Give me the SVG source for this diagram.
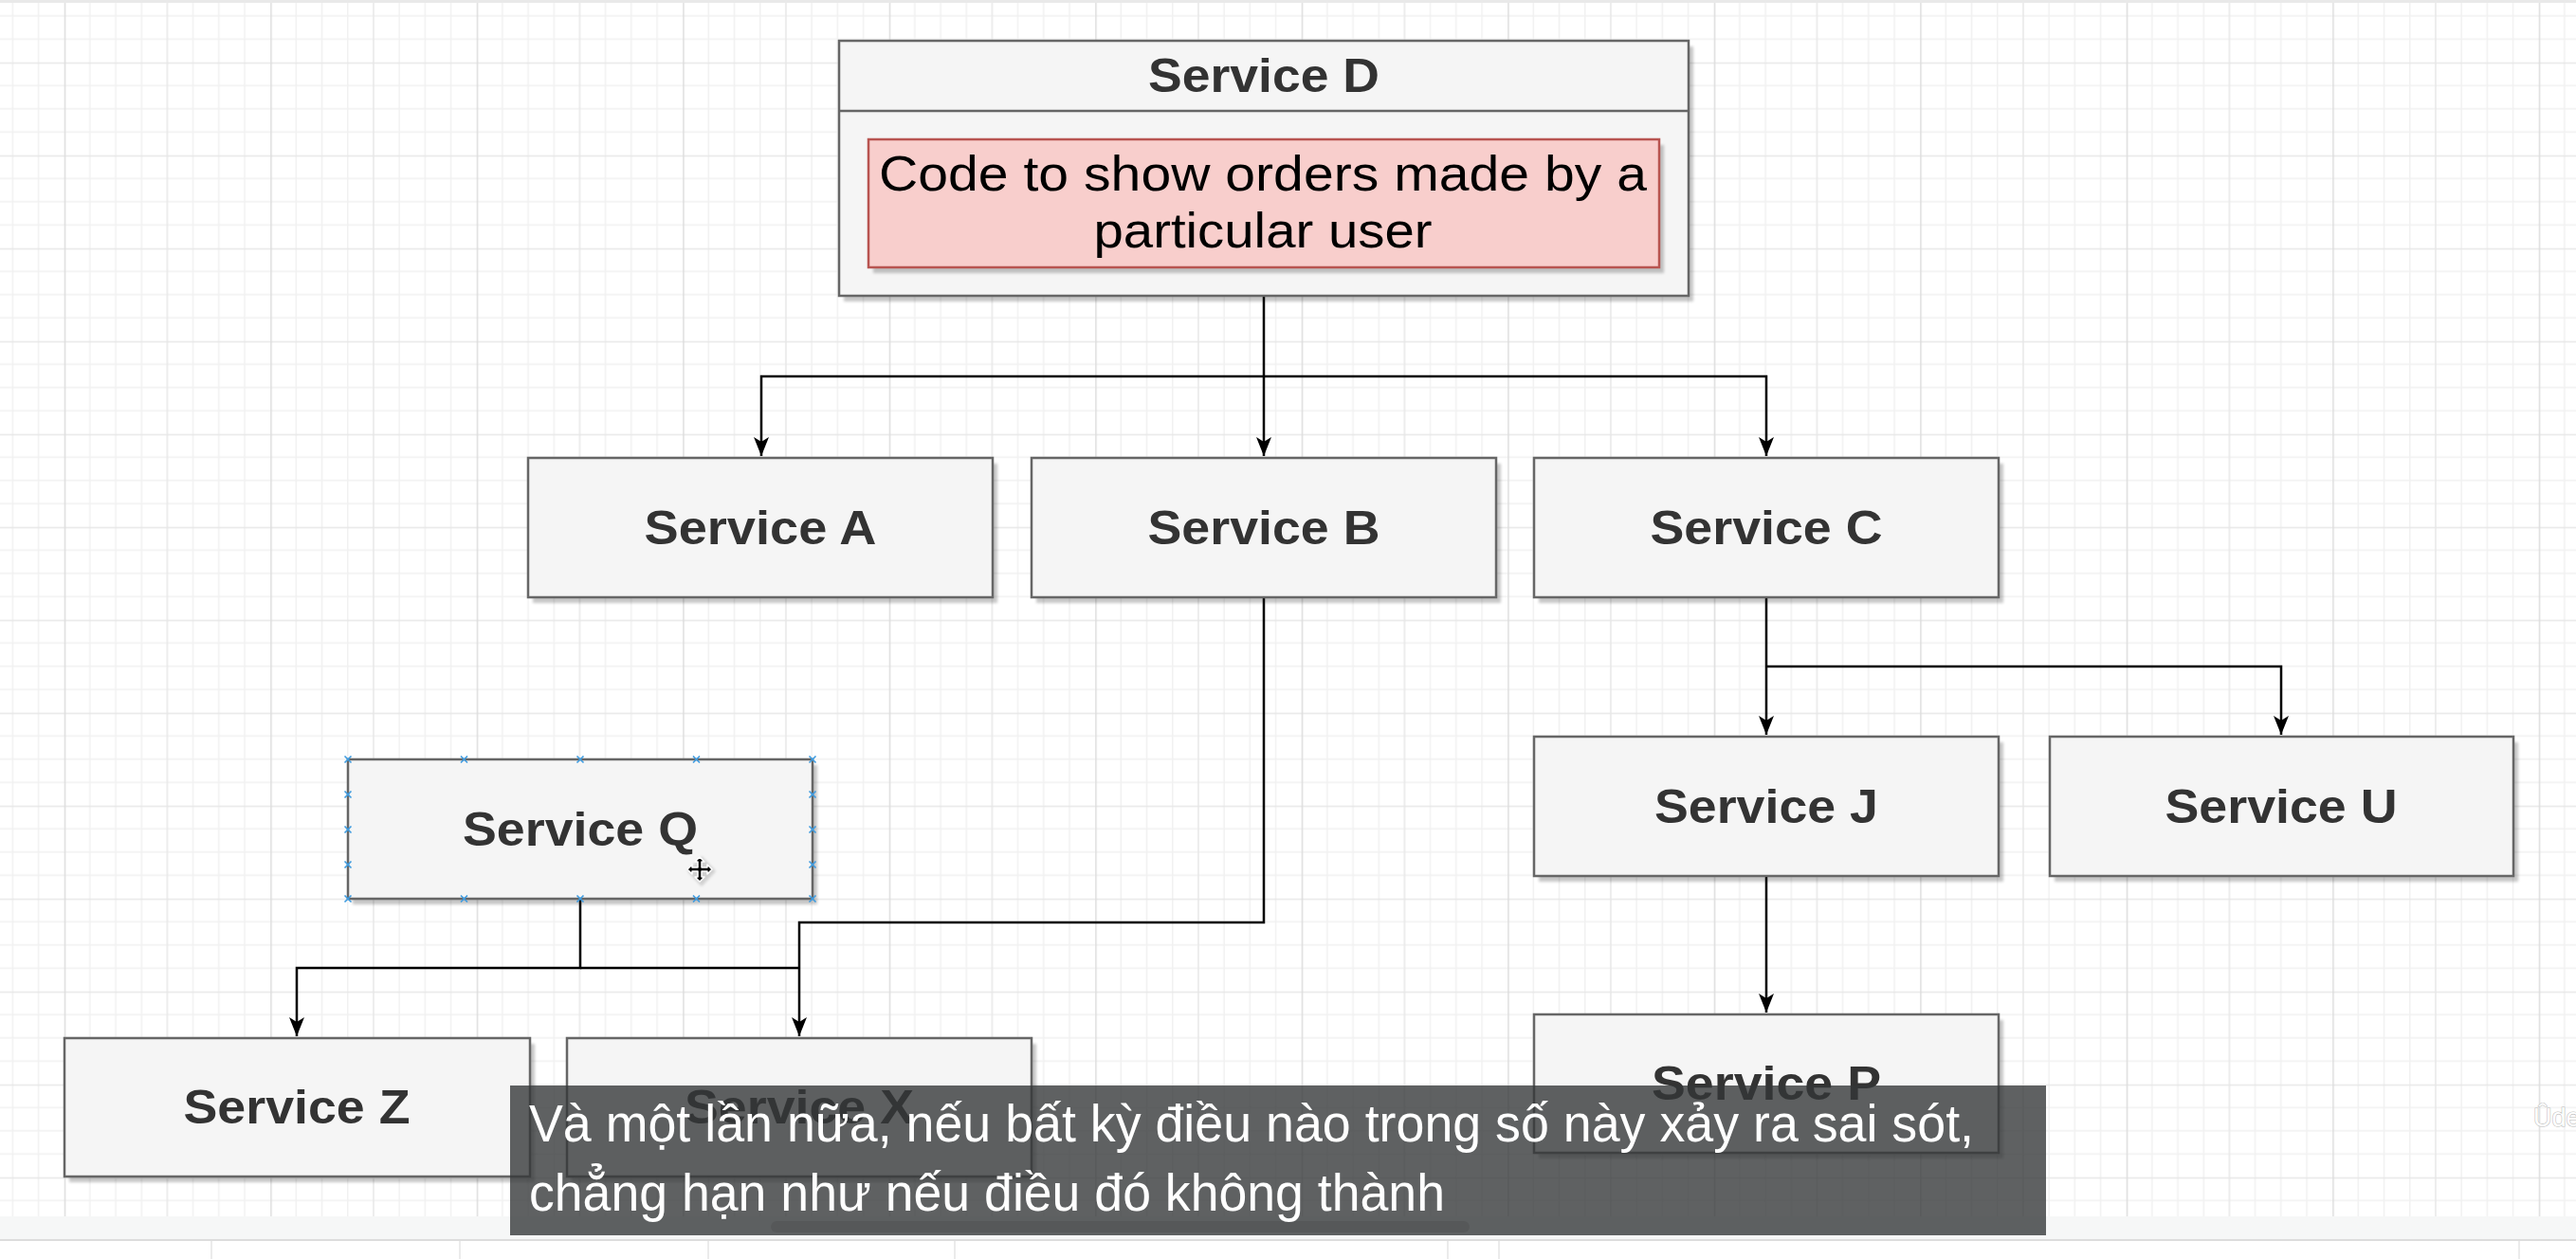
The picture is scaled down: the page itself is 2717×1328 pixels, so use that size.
<svg xmlns="http://www.w3.org/2000/svg" width="2717" height="1328" viewBox="0 0 2717 1328">
<style>
.box{fill:#f5f5f5;stroke:#666666;stroke-width:2.5}
.pink{fill:#f8cecc;stroke:#b85450;stroke-width:2.5}
.shd{fill:#000000;opacity:0.22;filter:url(#blur)}
.lbl{font-family:"Liberation Sans",Arial,Helvetica,sans-serif;font-weight:bold;font-size:50px;fill:#333333;text-anchor:middle}
.body{font-family:"Liberation Sans",Arial,Helvetica,sans-serif;font-size:52px;fill:#000000;text-anchor:middle}
.con{fill:none;stroke:#000000;stroke-width:2.5}
.arr{marker-end:url(#arrow)}
.sub{font-family:"Liberation Sans","DejaVu Sans",Arial,sans-serif;font-size:55px;fill:#ffffff}
.hdl{fill:none;stroke:#3d9be0;stroke-width:1.6}
.tb{stroke:#e4e4e4;stroke-width:1.5}
</style>
<defs>
<filter id="blur" x="-5%" y="-5%" width="110%" height="120%"><feGaussianBlur stdDeviation="1.8"/></filter>
<pattern id="grid" patternUnits="userSpaceOnUse" x="67.7" y="65.7" width="217.5" height="98">
<rect width="217.5" height="98" fill="#ffffff"/>
<g stroke="#f1f1f1" stroke-width="1.5">
<line x1="27.19" y1="0" x2="27.19" y2="98"/>
<line x1="54.38" y1="0" x2="54.38" y2="98"/>
<line x1="81.56" y1="0" x2="81.56" y2="98"/>
<line x1="135.94" y1="0" x2="135.94" y2="98"/>
<line x1="163.13" y1="0" x2="163.13" y2="98"/>
<line x1="190.31" y1="0" x2="190.31" y2="98"/>
<line x1="0" y1="24.5" x2="217.5" y2="24.5"/>
<line x1="0" y1="49" x2="217.5" y2="49"/>
<line x1="0" y1="73.5" x2="217.5" y2="73.5"/>
</g>
<line x1="0" y1="0.75" x2="217.5" y2="0.75" stroke="#e7e7e7" stroke-width="1.5"/>
<line x1="108.75" y1="0" x2="108.75" y2="98" stroke="#e8e8e8" stroke-width="1.5"/>
<line x1="0.75" y1="0" x2="0.75" y2="98" stroke="#dddddd" stroke-width="1.5"/>
</pattern>
<marker id="arrow" markerUnits="userSpaceOnUse" markerWidth="22" markerHeight="18" viewBox="0 0 22 18" refX="20" refY="9" orient="auto">
<path d="M0,1 L20,9 L0,17 L5,9 Z" fill="#000000"/>
</marker>
</defs>

<g id="background">
<rect x="0" y="0" width="2717" height="1328" fill="#ffffff"/>
<rect x="0" y="3" width="2717" height="1280" fill="url(#grid)"/>
<rect x="0" y="0" width="2717" height="3" fill="#e9e9e9"/>
<rect x="0" y="1283" width="2717" height="25" fill="#f6f7f7"/>
<line x1="0" y1="1308" x2="2717" y2="1308" stroke="#dcdcdc" stroke-width="2"/>
<line class="tb" x1="223" y1="1309" x2="223" y2="1328"/>
<line class="tb" x1="485" y1="1309" x2="485" y2="1328"/>
<line class="tb" x1="747" y1="1309" x2="747" y2="1328"/>
<line class="tb" x1="1007" y1="1309" x2="1007" y2="1328"/>
<line class="tb" x1="1527" y1="1309" x2="1527" y2="1328"/>
<line class="tb" x1="1581" y1="1309" x2="1581" y2="1328"/>
<line class="tb" x1="2657" y1="1309" x2="2657" y2="1328"/>
<rect x="813" y="1288" width="737" height="12" rx="6" fill="#d4d4d4"/>
</g>

<g id="connectors">
<path class="con arr" d="M1333,312 V481"/>
<path class="con arr" d="M1333,397 H803 V481"/>
<path class="con arr" d="M1333,397 H1863 V481"/>
<path class="con arr" d="M1863,630 V775"/>
<path class="con arr" d="M1863,703 H2406 V775"/>
<path class="con arr" d="M1863,924 V1068"/>
<path class="con arr" d="M1333,630 V973 H843 V1093"/>
<path class="con arr" d="M612,948 V1021 H313 V1093"/>
<path class="con" d="M612,1021 H843"/>
</g>

<g id="node-service-d">
<rect class="shd" x="890" y="49" width="896" height="269"/>
<rect class="box" x="885" y="43" width="896" height="269"/>
<line x1="885" y1="117" x2="1781" y2="117" stroke="#666666" stroke-width="2.5"/>
<text class="lbl" x="1333" y="97" textLength="244" lengthAdjust="spacingAndGlyphs">Service D</text>
<rect class="shd" x="921" y="153" width="834" height="135"/>
<rect class="pink" x="916" y="147" width="834" height="135"/>
<text class="body" x="1332" y="201" textLength="810" lengthAdjust="spacingAndGlyphs">Code to show orders made by a</text>
<text class="body" x="1332" y="261" textLength="357" lengthAdjust="spacingAndGlyphs">particular user</text>
</g>

<g id="node-service-a">
<rect class="shd" x="562" y="489" width="490" height="147"/>
<rect class="box" x="557" y="483" width="490" height="147"/>
<text class="lbl" x="802" y="574" textLength="245" lengthAdjust="spacingAndGlyphs">Service A</text>
</g>
<g id="node-service-b">
<rect class="shd" x="1093" y="489" width="490" height="147"/>
<rect class="box" x="1088" y="483" width="490" height="147"/>
<text class="lbl" x="1333" y="574" textLength="245" lengthAdjust="spacingAndGlyphs">Service B</text>
</g>
<g id="node-service-c">
<rect class="shd" x="1623" y="489" width="490" height="147"/>
<rect class="box" x="1618" y="483" width="490" height="147"/>
<text class="lbl" x="1863" y="574" textLength="245" lengthAdjust="spacingAndGlyphs">Service C</text>
</g>
<g id="node-service-j">
<rect class="shd" x="1623" y="783" width="490" height="147"/>
<rect class="box" x="1618" y="777" width="490" height="147"/>
<text class="lbl" x="1863" y="868" textLength="236" lengthAdjust="spacingAndGlyphs">Service J</text>
</g>
<g id="node-service-u">
<rect class="shd" x="2167" y="783" width="489" height="147"/>
<rect class="box" x="2162" y="777" width="489" height="147"/>
<text class="lbl" x="2406" y="868" textLength="245" lengthAdjust="spacingAndGlyphs">Service U</text>
</g>
<g id="node-service-q">
<rect class="shd" x="372" y="807" width="490" height="147"/>
<rect class="box" x="367" y="801" width="490" height="147"/>
<text class="lbl" x="612" y="892" textLength="248" lengthAdjust="spacingAndGlyphs">Service Q</text>
<path class="hdl" d="M363.5,797.5l7,7m0,-7l-7,7 M486,797.5l7,7m0,-7l-7,7 M608.5,797.5l7,7m0,-7l-7,7 M731,797.5l7,7m0,-7l-7,7 M853.5,797.5l7,7m0,-7l-7,7 M363.5,944.5l7,7m0,-7l-7,7 M486,944.5l7,7m0,-7l-7,7 M608.5,944.5l7,7m0,-7l-7,7 M731,944.5l7,7m0,-7l-7,7 M853.5,944.5l7,7m0,-7l-7,7 M363.5,834.5l7,7m0,-7l-7,7 M363.5,871.5l7,7m0,-7l-7,7 M363.5,908.5l7,7m0,-7l-7,7 M853.5,834.5l7,7m0,-7l-7,7 M853.5,871.5l7,7m0,-7l-7,7 M853.5,908.5l7,7m0,-7l-7,7"/>
<path d="M740,903 L755,919 L740,935 L725,919 Z" fill="#000000" opacity="0.15" filter="url(#blur)"/>
<path transform="translate(738,917)" d="M0,-13 L5,-8 L2,-8 L2,-2 L8,-2 L8,-5 L13,0 L8,5 L8,2 L2,2 L2,8 L5,8 L0,13 L-5,8 L-2,8 L-2,2 L-8,2 L-8,5 L-13,0 L-8,-5 L-8,-2 L-2,-2 L-2,-8 L-5,-8 Z" fill="#000000" stroke="#ffffff" stroke-width="1.5" stroke-linejoin="round"/>
</g>
<g id="node-service-z">
<rect class="shd" x="73" y="1101" width="491" height="146"/>
<rect class="box" x="68" y="1095" width="491" height="146"/>
<text class="lbl" x="313" y="1185" textLength="239" lengthAdjust="spacingAndGlyphs">Service Z</text>
</g>
<g id="node-service-x">
<rect class="shd" x="603" y="1101" width="490" height="146"/>
<rect class="box" x="598" y="1095" width="490" height="146"/>
<text class="lbl" x="843" y="1185" textLength="242" lengthAdjust="spacingAndGlyphs">Service X</text>
</g>
<g id="node-service-p">
<rect class="shd" x="1623" y="1076" width="490" height="146"/>
<rect class="box" x="1618" y="1070" width="490" height="146"/>
<text class="lbl" x="1863" y="1160" textLength="242" lengthAdjust="spacingAndGlyphs">Service P</text>
</g>

<g id="watermark">
<text x="2672" y="1188" font-family="Liberation Sans,Arial,sans-serif" font-size="27" fill="#ffffff" stroke="#bdbdbd" stroke-width="1.2" paint-order="stroke">Ûde</text>
</g>

<g id="subtitle">
<rect x="538" y="1145" width="1620" height="158" fill="#343638" opacity="0.79"/>
<text class="sub" x="558" y="1204" textLength="1524" lengthAdjust="spacingAndGlyphs">Và một lần nữa, nếu bất kỳ điều nào trong số này xảy ra sai sót,</text>
<text class="sub" x="558" y="1277" textLength="966" lengthAdjust="spacingAndGlyphs">chẳng hạn như nếu điều đó không thành</text>
</g>
</svg>
